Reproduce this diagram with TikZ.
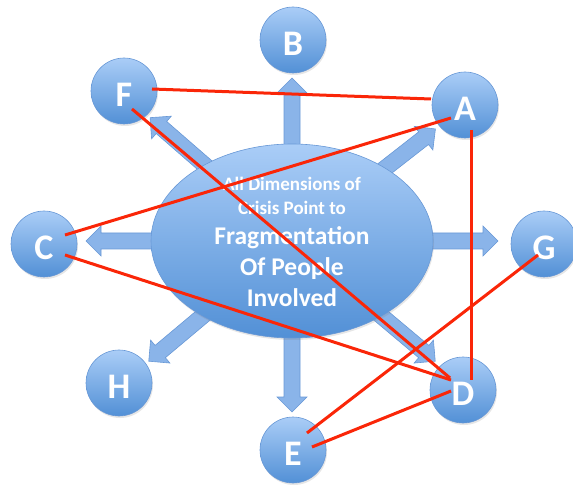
\documentclass[tikz,border=0pt]{standalone}
\usepackage{fontspec}
\setmainfont{Carlito}
\usepackage{tikz}
\usetikzlibrary{shapes.geometric,shadows}

\definecolor{bubbletop}{RGB}{170,205,247}
\definecolor{bubblebot}{RGB}{82,144,214}
\definecolor{bubbleedge}{RGB}{104,152,214}
\definecolor{arrowblue}{RGB}{138,180,233}
\definecolor{linkred}{RGB}{250,38,8}

\begin{document}
\begin{tikzpicture}[x=1pt,y=1pt,
    letter/.style={circle, minimum size=66pt, inner sep=0pt, draw=bubbleedge, line width=0.6pt,
        top color=bubbletop, bottom color=bubblebot, text=white,
        text height=31pt, text depth=0pt,
        font=\fontsize{36}{36}\selectfont\bfseries,
        drop shadow={opacity=0.2, shadow xshift=1pt, shadow yshift=-2pt}},
    hub/.style={ellipse, minimum width=282pt, minimum height=194pt, inner sep=0pt, draw=bubbleedge,
        line width=0.6pt, top color=bubbletop, bottom color=bubblebot,
        drop shadow={opacity=0.2, shadow xshift=1pt, shadow yshift=-2pt}},
    hubtext/.style={align=center, text=white, inner sep=0pt, font=\fontsize{19}{24}\selectfont\bfseries},
    blockarrow/.style={fill=arrowblue, draw=bubbleedge, line width=0.6pt},
    link/.style={draw=linkred, line width=3pt}]
    \useasboundingbox (0,0) rectangle (573,485);
    % block arrows out of the hub
    \foreach \ang/\len in {90/163, 38/182, 0/206, -40/187, -90/171, -140/187, 180/206, 139/188}
        \draw[blockarrow, rotate around={\ang:(292,244)}] (292,236) -- (277+\len,236) -- (277+\len,229)
            -- (292+\len,244) -- (277+\len,259) -- (277+\len,252) -- (292,252) -- cycle;
    \node[hub] (hub) at (292,244) {};
    \node[hubtext] (caption) at (292,243) {All Dimensions of\\ Crisis Point to\\[6pt]
        \fontsize{25.5}{31}\selectfont Fragmentation\\[7pt]
        \fontsize{25.5}{31}\selectfont Of People\\[7pt]
        \fontsize{25.5}{31}\selectfont Involved};
    % the eight bubbles
    \node[letter] (B) at (293,445) {B};
    \node[letter] (F) at (124,394) {F};
    \node[letter] (A) at (465,380) {A};
    \node[letter] (C) at (44,241) {C};
    \node[letter] (G) at (544,241) {G};
    \node[letter] (H) at (119,102) {H};
    \node[letter] (D) at (463,95) {D};
    \node[letter] (E) at (293,35) {E};
    % red links
    \draw[link] ([shift={(28,2)}]F.center) -- ([shift={(-34,6)}]A.center);
    \draw[link] ([shift={(-14,-13)}]A.center) -- ([shift={(21,9)}]C.center);
    \draw[link] ([shift={(6,-25)}]A.center) -- ([shift={(8,10)}]D.center);
    \draw[link] ([shift={(8,-18)}]F.center) -- ([shift={(-13,12)}]D.center);
    \draw[link] ([shift={(21,-11)}]C.center) -- ([shift={(-12,10)}]D.center);
    \draw[link] ([shift={(-6,-11)}]G.center) -- ([shift={(14,17)}]E.center);
    \draw[link] ([shift={(-12,-1)}]D.center) -- ([shift={(19,3)}]E.center);
\end{tikzpicture}
\end{document}
